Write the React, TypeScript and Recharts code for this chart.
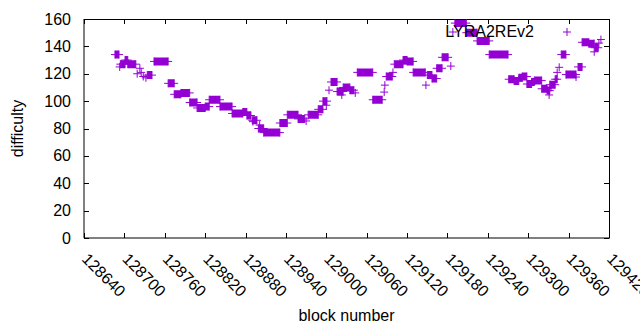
import React from "react";
import { ComposedChart, Line, Scatter, XAxis, YAxis, Legend } from "recharts";

const COLOR = "#9400d3";
const FONT = "Liberation Sans, Arial, sans-serif";
const PLOT_TOP = 19;
const PLOT_RIGHT = 609;

const xTicks = [
    128640, 128700, 128760, 128820, 128880, 128940, 129000,
    129060, 129120, 129180, 129240, 129300, 129360, 129420,
];
const yTicks = [0, 20, 40, 60, 80, 100, 120, 140, 160];

// runs of blocks with the same difficulty (first block, last block, value)
const runStart = [
    128686, 128694, 128701, 128705, 128734, 128744, 128765, 128774, 128784, 128797,
    128808, 128820, 128826, 128842, 128860, 128876, 128882, 128890, 128899, 128907,
    128931, 128942, 128958, 128973, 128988, 128995, 129007, 129016, 129025, 129035,
    129046, 129069, 129089, 129101, 129114, 129120, 129129, 129150, 129157, 129164,
    129172, 129191, 129208, 129224, 129242, 129271, 129279, 129286, 129291, 129298,
    129305, 129309, 129320, 129328, 129332, 129340, 129349, 129356, 129374, 129380,
    129390, 129399,
];
const runEnd = [
    128692, 128701, 128705, 128717, 128741, 128765, 128774, 128784, 128797, 128808,
    128820, 128826, 128842, 128860, 128876, 128882, 128888, 128897, 128907, 128931,
    128942, 128958, 128968, 128988, 128995, 129001, 129016, 129025, 129035, 129041,
    129069, 129083, 129098, 129114, 129120, 129129, 129147, 129157, 129164, 129172,
    129181, 129208, 129224, 129242, 129270, 129279, 129286, 129291, 129298, 129305,
    129309, 129320, 129328, 129332, 129340, 129343, 129356, 129371, 129380, 129390,
    129398, 129404,
];
const runValue = [
    134, 127, 130, 127, 119, 129, 113, 105, 106, 99,
    95, 96, 101, 96, 91, 92, 89.5, 86, 80, 77,
    84, 90, 87, 90, 94, 100, 114, 107, 110, 108,
    121, 101, 118, 127, 130, 129, 121, 119, 116.5, 124,
    132, 157, 150, 144, 134, 116, 114.7, 117, 118, 112.5,
    114, 115, 109, 107.7, 112, 116, 134, 119.4, 125, 143,
    142, 139,
];

// isolated blocks
const singleBlock = [
    128693, 128719, 128723, 128725, 128728, 128732, 128891, 128901, 128970, 129000,
    129004, 129023, 129043, 129086, 129087, 129099, 129148, 129185, 129188, 129331,
    129334, 129343, 129346, 129371, 129398, 129405, 129408,
];
const singleValue = [
    125, 120, 124, 121, 118, 117, 85, 82.5, 85.5, 97,
    108, 104.5, 106, 106.6, 111.7, 121, 111.7, 125.6, 150.5, 104.5,
    110, 121, 124.7, 117.6, 136, 142.4, 145,
];

const bandData = runStart.flatMap((s, i) => [
    { block: s, difficulty: runValue[i] },
    { block: runEnd[i], difficulty: runValue[i] },
    { block: runEnd[i], difficulty: null },
]);

const pointData = [
    ...runStart.map((s, i) => ({ block: s, difficulty: runValue[i] })),
    ...runEnd.map((e, i) => ({ block: e, difficulty: runValue[i] })),
    ...singleBlock.map((b, i) => ({ block: b, difficulty: singleValue[i] })),
];

const PlusMark = (props: any) => {
    const { cx, cy } = props;
    if (cx == null || cy == null) return null;
    return (
        <path
            d={`M${cx - 4},${cy}h8M${cx},${cy - 4}v8`}
            stroke={COLOR}
            strokeWidth={1}
            fill="none"
        />
    );
};

// default tickSize 6 + tickMargin 2 => tick props sit 8px off the axis line
const XTick = (props: any) => {
    const { x, y, payload } = props;
    const axisY = y - 8;
    const px = Math.round(x) + 0.5;
    const tx = x - 3;
    const ty = y + 14;
    return (
        <g>
            <path
                d={`M${px},${axisY}v-5M${px},${PLOT_TOP}v5`}
                stroke="#000"
                strokeWidth={1}
                fill="none"
            />
            <text
                x={tx}
                y={ty}
                transform={`rotate(45 ${tx} ${ty})`}
                textAnchor="start"
                fontSize={16}
                fontFamily={FONT}
                fill="#000"
            >
                {payload.value}
            </text>
        </g>
    );
};

const YTick = (props: any) => {
    const { x, y, payload } = props;
    const axisX = x + 8;
    const py = Math.round(y) + 0.5;
    return (
        <g>
            <path
                d={`M${axisX},${py}h5M${PLOT_RIGHT},${py}h-5`}
                stroke="#000"
                strokeWidth={1}
                fill="none"
            />
            <text
                x={x - 5}
                y={y}
                textAnchor="end"
                dominantBaseline="central"
                fontSize={16}
                fontFamily={FONT}
                fill="#000"
            >
                {payload.value}
            </text>
        </g>
    );
};

// x label, plus the top and right edges of the frame
const XLabel = (props: any) => {
    const { viewBox } = props;
    const left = viewBox.x + 0.5;
    const right = viewBox.x + viewBox.width + 0.5;
    return (
        <g>
            <path
                d={`M${left},${PLOT_TOP + 0.5}H${right}V${viewBox.y + 0.5}`}
                stroke="#000"
                strokeWidth={1}
                fill="none"
            />
            <text
                x={viewBox.x + viewBox.width / 2}
                y={321}
                textAnchor="middle"
                fontSize={16}
                fontFamily={FONT}
                fill="#000"
            >
                block number
            </text>
        </g>
    );
};

const YLabel = (props: any) => {
    const { viewBox } = props;
    const cx = 17;
    const cy = viewBox.y + viewBox.height / 2;
    return (
        <text
            x={cx}
            y={cy}
            transform={`rotate(-90 ${cx} ${cy})`}
            textAnchor="middle"
            dominantBaseline="central"
            fontSize={16}
            fontFamily={FONT}
            fill="#000"
        >
            difficulty
        </text>
    );
};

const LegendBox = () => (
    <div style={{ position: "relative", width: 150, height: 20, fontFamily: FONT, fontSize: 16 }}>
        <span style={{ position: "absolute", right: 56, top: 0, lineHeight: "20px", whiteSpace: "nowrap" }}>
            LYRA2REv2
        </span>
        <svg width={10} height={10} style={{ position: "absolute", left: 122, top: 5 }}>
            <path d="M1,5h8M5,1v8" stroke={COLOR} strokeWidth={1} fill="none" />
        </svg>
    </div>
);

const hiddenLine = { stroke: "none" };

export default function App() {
    return (
        <div style={{ position: "absolute", left: 0, top: 0 }}>
            <ComposedChart
                width={640}
                height={330}
                margin={{ top: PLOT_TOP, right: 640 - PLOT_RIGHT, bottom: 0, left: 0 }}
            >
                <XAxis
                    type="number"
                    dataKey="block"
                    domain={[128640, 129420]}
                    ticks={xTicks}
                    interval={0}
                    height={92}
                    tickLine={hiddenLine}
                    stroke="#000"
                    tick={<XTick />}
                    label={<XLabel />}
                />
                <YAxis
                    type="number"
                    domain={[0, 160]}
                    ticks={yTicks}
                    interval={0}
                    width={84}
                    tickLine={hiddenLine}
                    stroke="#000"
                    tick={<YTick />}
                    label={<YLabel />}
                />
                <Legend
                    layout="horizontal"
                    verticalAlign="middle"
                    align="center"
                    wrapperStyle={{ top: 22, left: 440, width: 150 }}
                    content={<LegendBox />}
                />
                <Line
                    data={bandData}
                    dataKey="difficulty"
                    stroke={COLOR}
                    strokeWidth={8}
                    strokeLinecap="butt"
                    dot={false}
                    activeDot={false}
                    connectNulls={false}
                    isAnimationActive={false}
                    legendType="none"
                />
                <Scatter
                    data={pointData}
                    dataKey="difficulty"
                    shape={<PlusMark />}
                    isAnimationActive={false}
                    legendType="none"
                />
            </ComposedChart>
        </div>
    );
}
